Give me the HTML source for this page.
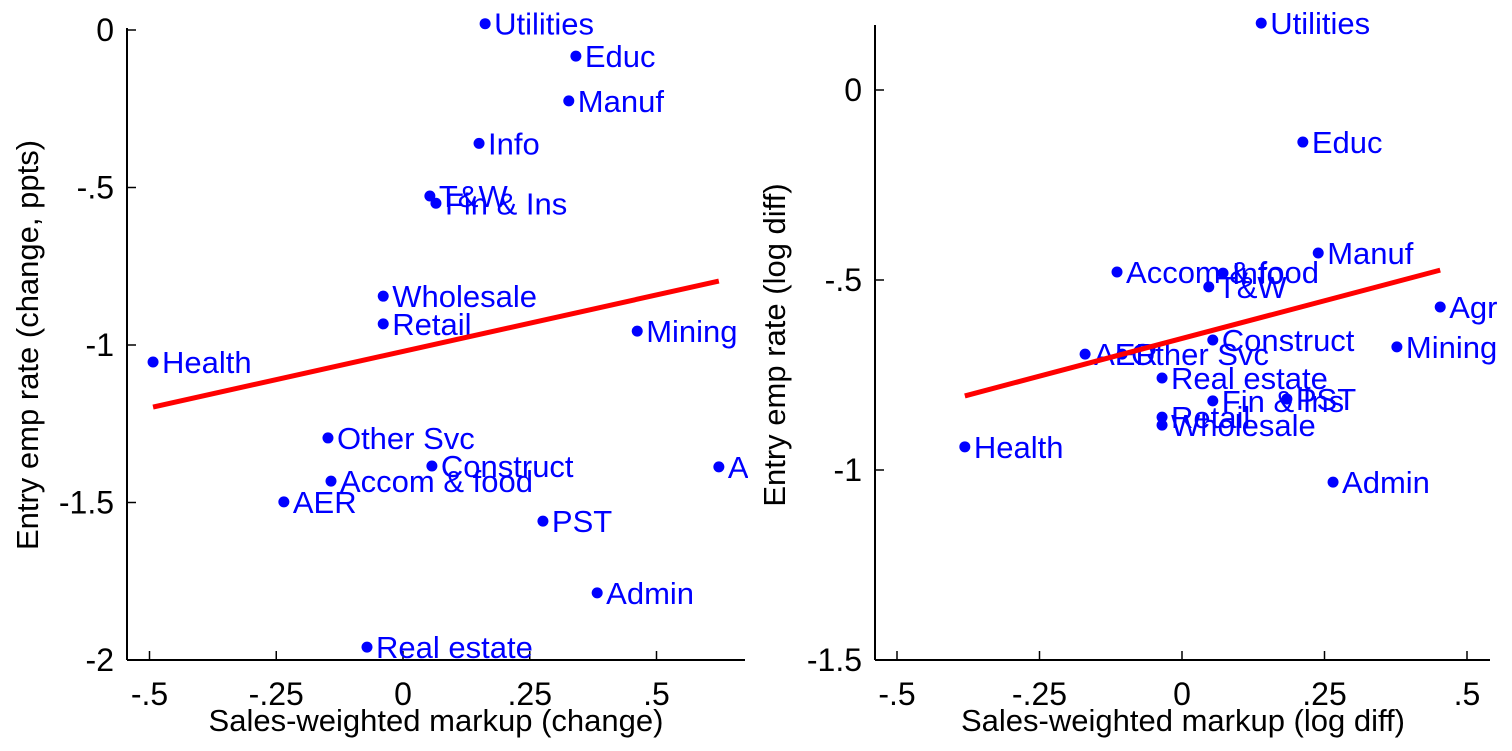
<!DOCTYPE html>
<html><head><meta charset="utf-8"><style>
body{margin:0;background:#fff}
svg text{font-family:"Liberation Sans",Arial,sans-serif}
</style></head><body>
<svg id="c" width="1512" height="746" xmlns="http://www.w3.org/2000/svg">
<defs><clipPath id="clipL"><rect x="0" y="0" width="748" height="746"/></clipPath></defs>
</svg>
<script>
const leftNames=["Utilities","Educ","Manuf","Info","T&W","Fin & Ins","Wholesale","Retail","Mining","Health","Other Svc","Construct","Accom & food","AER","Agr","PST","Admin","Real estate"];
const leftX=[0.162,0.341,0.327,0.15,0.053,0.065,-0.039,-0.039,0.462,-0.493,-0.148,0.057,-0.142,-0.235,0.623,0.276,0.383,-0.071];
const leftY=[0.02,-0.083,-0.225,-0.36,-0.527,-0.55,-0.845,-0.933,-0.956,-1.054,-1.295,-1.384,-1.432,-1.498,-1.387,-1.559,-1.787,-1.959];
const leftFit=[[-0.493,-1.197],[0.623,-0.797]];
const rightNames=["Utilities","Educ","Manuf","Accom & food","Info","T&W","Agr","Construct","AER","Other Svc","Mining","Real estate","Fin & Ins","PST","Retail","Wholesale","Health","Admin"];
const rightX=[0.139,0.212,0.239,-0.114,0.072,0.047,0.453,0.054,-0.17,-0.105,0.377,-0.035,0.054,0.184,-0.035,-0.035,-0.381,0.265];
const rightY=[0.176,-0.137,-0.429,-0.479,-0.482,-0.518,-0.571,-0.658,-0.695,-0.695,-0.676,-0.758,-0.818,-0.813,-0.861,-0.882,-0.939,-1.032];
const rightFit=[[-0.381,-0.805],[0.453,-0.474]];
const leftXTicks=[-0.5,-0.25,0,0.25,0.5], leftXTickLabels=["-.5","-.25","0",".25",".5"];
const leftYTicks=[0,-0.5,-1,-1.5,-2], leftYTickLabels=["0","-.5","-1","-1.5","-2"];
const rightXTicks=[-0.5,-0.25,0,0.25,0.5], rightXTickLabels=["-.5","-.25","0",".25",".5"];
const rightYTicks=[0,-0.5,-1,-1.5], rightYTickLabels=["0","-.5","-1","-1.5"];

const svg=document.getElementById('c');
const NS="http://www.w3.org/2000/svg";
function mk(tag,attrs,parent,text){const e=document.createElementNS(NS,tag);for(const k in attrs)e.setAttribute(k,attrs[k]);if(text!==undefined)e.textContent=text;(parent||svg).appendChild(e);return e;}

function panel(p){
  const g=mk('g',{});
  
  
  const sx=v=>p.x0+v*p.kx, sy=v=>p.y0-v*p.ky;
  const ya=mk('line',{x1:p.ax,y1:p.yTop,x2:p.ax,y2:660,stroke:'#000','stroke-width':2},g);
  
  const xa=mk('line',{x1:p.ax,y1:660,x2:p.xRight,y2:660,stroke:'#000','stroke-width':2},g);
  
  p.xt.forEach((v,i)=>{
    mk('line',{x1:sx(v),y1:660,x2:sx(v),y2:651,stroke:'#000','stroke-width':1.5},g);
    const t=mk('text',{x:sx(v),y:705,'font-size':32,'text-anchor':'middle'},g,p.xtl[i]);
    
  });
  p.yt.forEach((v,i)=>{
    mk('line',{x1:p.ax,y1:sy(v),x2:p.ax+9,y2:sy(v),stroke:'#000','stroke-width':1.5},g);
    const t=mk('text',{x:p.ax-13,y:sy(v)+11,'font-size':32,'text-anchor':'end'},g,p.ytl[i]);
    
  });
  const xtt=mk('text',{x:p.xtx,y:731,'font-size':31,'text-anchor':'middle'},g,p.xtitle);
  
  const ytt=mk('text',{x:0,y:0,'font-size':31,'text-anchor':'middle',transform:`translate(${p.ytx},345) rotate(-90)`},g,p.ytitle);
  
  const pg=mk('g',p.clip?{'clip-path':'url(#'+p.clip+')'}:{},g);
  p.xs.forEach((v,i)=>{
    const c=mk('circle',{cx:sx(v),cy:sy(p.ys[i]),r:5.5,fill:'#0000ff'},pg);
    
    
    const t=mk('text',{x:sx(v)+9,y:sy(p.ys[i])+11,'font-size':31,fill:'#0000ff'},pg,p.names[i]);
    
    
  });
  const f=mk('line',{x1:sx(p.fit[0][0]),y1:sy(p.fit[0][1]),x2:sx(p.fit[1][0]),y2:sy(p.fit[1][1]),stroke:'#ff0000','stroke-width':5},g);
  
}
panel({id:'left',x0:403,kx:507,y0:30,ky:315,ax:127,xRight:745,yTop:28,xt:leftXTicks,xtl:leftXTickLabels,yt:leftYTicks,ytl:leftYTickLabels,
  xtitle:'Sales-weighted markup (change)',xtx:436,ytitle:'Entry emp rate (change, ppts)',ytx:38,names:leftNames,xs:leftX,ys:leftY,fit:leftFit,clip:'clipL'});
panel({id:'right',x0:1182,kx:570,y0:90,ky:380,ax:875,xRight:1490,yTop:25,xt:rightXTicks,xtl:rightXTickLabels,yt:rightYTicks,ytl:rightYTickLabels,
  xtitle:'Sales-weighted markup (log diff)',xtx:1183,ytitle:'Entry emp rate (log diff)',ytx:785,names:rightNames,xs:rightX,ys:rightY,fit:rightFit});
</script>
</body></html>
